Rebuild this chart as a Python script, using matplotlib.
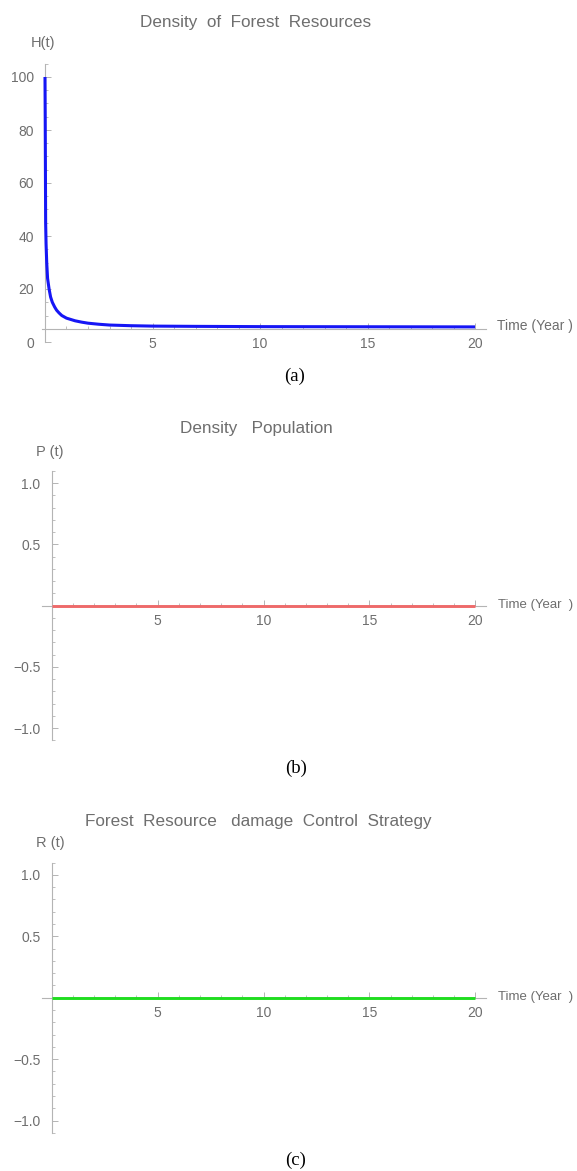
import matplotlib
matplotlib.use("Agg")
import matplotlib.pyplot as plt
from matplotlib import font_manager
from matplotlib.ticker import MultipleLocator, FixedLocator

# ---- data ----
t_H = [0, 0.01, 0.02, 0.03, 0.05, 0.08, 0.12, 0.19, 0.26, 0.34, 0.45, 0.54,
       0.65, 0.78, 1.0, 1.2, 1.4, 1.7, 2.0, 2.5, 3.0, 4.0, 5.0, 7.0, 10, 15, 20]
H_vals = [100, 85, 65, 45, 37, 30, 24, 20, 17, 15, 13.2, 12, 11, 10, 9, 8.5,
          8, 7.5, 7.1, 6.7, 6.4, 6.15, 6.0, 5.9, 5.8, 5.75, 5.7]
t_P = [0, 5, 10, 15, 20]
P_vals = [0, 0, 0, 0, 0]
t_R = [0, 5, 10, 15, 20]
R_vals = [0, 0, 0, 0, 0]

x_ticks = [5, 10, 15, 20]
H_ticks = [0, 20, 40, 60, 80, 100]
PR_ticks = [-1.0, -0.5, 0.5, 1.0]
PR_tick_labels = ["\u22121.0", "\u22120.5", "0.5", "1.0"]

titles = ["Density  of  Forest  Resources", "Density   Population",
          "Forest  Resource   damage  Control  Strategy"]
ylabels = ["H(t)", "P (t)", "R (t)"]
xlabels = ["Time (Year )", "Time (Year  )", "Time (Year  )"]
captions = ["(a)", "(b)", "(c)"]

# ---- fonts ----
names = {f.name for f in font_manager.fontManager.ttflist}
sans = "Liberation Sans Narrow" if "Liberation Sans Narrow" in names else "Liberation Sans"
serif = "Liberation Serif" if "Liberation Serif" in names else "DejaVu Serif"

W, Hpx = 577, 1171
fig = plt.figure(figsize=(W / 100, Hpx / 100), dpi=100)

TXT = "#6e6e6e"
AX = "#b4b4b4"


def px_axes(left, top, right, bottom):
    return fig.add_axes([left / W, 1 - bottom / Hpx, (right - left) / W, (bottom - top) / Hpx])


def fx(x):
    return x / W


def fy(y):
    return 1 - y / Hpx


def style(ax, xorigin_y):
    for s in ["top", "right"]:
        ax.spines[s].set_visible(False)
    ax.spines["left"].set_position(("data", 0))
    ax.spines["bottom"].set_position(("data", xorigin_y))
    for s in ["left", "bottom"]:
        ax.spines[s].set_color(AX)
        ax.spines[s].set_linewidth(0.8)
    ax.tick_params(which="major", direction="in", length=4, width=0.7, color=AX,
                   labelcolor=TXT, labelsize=10)
    ax.tick_params(which="minor", direction="in", length=2.2, width=0.6, color=AX)
    ax.tick_params(axis="y", pad=8)
    ax.tick_params(axis="x", pad=6)
    for lab in ax.get_xticklabels() + ax.get_yticklabels():
        lab.set_fontfamily(sans)
    ax.patch.set_alpha(0)


# Panel (a)
axa = px_axes(42.2, 63.75, 485.8, 342)
axa.plot(t_H, H_vals, color="#1616f5", lw=2.2, solid_capstyle="butt", zorder=3)
axa.set_xlim(-0.13, 20.5)
axa.set_ylim(0, 105)
axa.xaxis.set_major_locator(FixedLocator(x_ticks))
axa.xaxis.set_minor_locator(MultipleLocator(1))
axa.yaxis.set_major_locator(FixedLocator(H_ticks))
axa.yaxis.set_minor_locator(MultipleLocator(5))
axa.set_xticklabels([str(v) for v in x_ticks])
axa.set_yticklabels([str(v) for v in H_ticks])
style(axa, 5.0)
axa.tick_params(axis="y", pad=8)

# Panel (b)
axb = px_axes(41.7, 470.95, 486, 740.45)
axb.plot(t_P, P_vals, color="#ee6a6a", lw=2.1, solid_capstyle="butt", zorder=3)
axb.set_xlim(-0.47, 20.5)
axb.set_ylim(-1.1, 1.1)
axb.xaxis.set_major_locator(FixedLocator(x_ticks))
axb.xaxis.set_minor_locator(MultipleLocator(1))
axb.yaxis.set_major_locator(FixedLocator(PR_ticks))
axb.yaxis.set_minor_locator(MultipleLocator(0.1))
axb.set_xticklabels([str(v) for v in x_ticks])
axb.set_yticklabels(PR_tick_labels)
style(axb, 0)

# Panel (c)
axc = px_axes(41.7, 862.6, 486, 1132.8)
axc.plot(t_R, R_vals, color="#20dd20", lw=2.1, solid_capstyle="butt", zorder=3)
axc.set_xlim(-0.47, 20.5)
axc.set_ylim(-1.1, 1.1)
axc.xaxis.set_major_locator(FixedLocator(x_ticks))
axc.xaxis.set_minor_locator(MultipleLocator(1))
axc.yaxis.set_major_locator(FixedLocator(PR_ticks))
axc.yaxis.set_minor_locator(MultipleLocator(0.1))
axc.set_xticklabels([str(v) for v in x_ticks])
axc.set_yticklabels(PR_tick_labels)
style(axc, 0)

# Texts
title_pos = [(256, 22.3), (256, 429), (258, 821.7)]
title_size = [12.3, 12.3, 12.3]
ylab_pos = [(43.5, 43.3), (50, 451.7), (50, 843.3)]
xlab_pos = [(497, 326), (498, 605), (498, 997)]
xlab_size = [10, 9.5, 9.5]
cap_pos = [(295, 376.7), (296, 768), (296, 1160)]

for i in range(3):
    fig.text(fx(title_pos[i][0]), fy(title_pos[i][1]), titles[i], ha="center", va="center",
             fontsize=title_size[i], color=TXT, family=sans)
    fig.text(fx(ylab_pos[i][0]), fy(ylab_pos[i][1]), ylabels[i], ha="center", va="center",
             fontsize=10.5, color=TXT, family=sans)
    fig.text(fx(xlab_pos[i][0]), fy(xlab_pos[i][1]), xlabels[i], ha="left", va="center",
             fontsize=xlab_size[i], color=TXT, family=sans)
    fig.text(fx(cap_pos[i][0]), fy(cap_pos[i][1]), captions[i], ha="center", va="center",
             fontsize=13.5, color="black", family=serif)

fig.savefig("out.png", dpi=100)
